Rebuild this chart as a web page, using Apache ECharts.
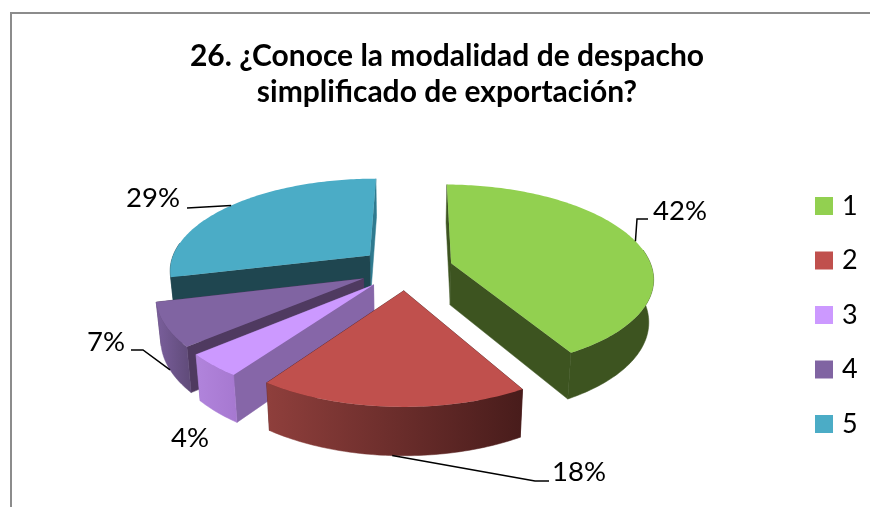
<!DOCTYPE html>
<html>
<head>
<meta charset="utf-8">
<style>html,body{margin:0;padding:0;background:#fff}#c{width:870px;height:507px}</style>
<script src="https://cdn.jsdelivr.net/npm/echarts@6/dist/echarts.min.js"></script>
</head>
<body>
<div id="c"></div>
<script>
var titleText = '26. ¿Conoce la modalidad de despacho\nsimplificado de exportación?';
var categories = ['1', '2', '3', '4', '5'];
var percentValues = [41.6, 18, 4, 7.4, 29];

var topColors = ['#92d050', '#c0504d', '#cc99ff', '#8064a2', '#4bacc6'];
var startWallColors = ['#3d5420', '#4a1c1c', '#8666a8', '#4f3a60', '#1f4650'];
var endWallColors = ['#3d5420', '#4a1c1c', '#8666a8', '#4f3a60', '#2f7a8f'];
var outerWallStops = [
  ['#3d5420', '#3d5420'],
  ['#8f3f3c', '#481c1b'],
  ['#b184dc', '#a678d0'],
  ['#7a5f9c', '#5f4a78'],
  ['#1f4650', '#1f4650']
];
var paintSequence = [4, 3, 2, 1, 0]; // blue at back, then purple, lavender, red, green
var labelPositions = [[680, 211], [579, 472], [190, 438], [106, 342], [153, 198]];
var leaderRoutes = [
  {base: false, bend: [[637, 219], [648, 219]]},
  {base: true, bend: [[535, 481], [549, 481]]},
  null,
  {base: true, bend: [[143, 350], [131, 350]]},
  {base: false, bend: [[187, 208]]}
];

var view = {cx: 406, cy: 268.5, a: 201, b: 91.7, p: 0.148, explode: 0.234, depth: 43, baseShrink: 1.02, startDeg: 0.5};

var total = percentValues.reduce(function (s, v) { return s + v; }, 0);
function rad(d) { return d * Math.PI / 180; }

function project(u, v, isBase) {
  var w = 1 + view.p * v;
  if (isBase) {
    w *= view.baseShrink;
    return [view.cx + view.a * u / w, view.cy + (-view.b * v + view.depth) / w];
  }
  return [view.cx + view.a * u / w, view.cy - view.b * v / w];
}

function sliceStart(i) {
  var before = 0;
  for (var k = 0; k < i; k++) before += percentValues[k];
  return view.startDeg + before / total * 360;
}

function renderSlice(i, api) {
  var val = api.value(0);
  var s = sliceStart(i), e = s + val / total * 360, mid = (s + e) / 2;
  var ou = view.explode * Math.sin(rad(mid)), ov = view.explode * Math.cos(rad(mid));
  function rim(deg, base) {
    return project(ou + Math.sin(rad(deg)), ov + Math.cos(rad(deg)), base);
  }
  var arcTop = [], wallTop = [], wallBase = [];
  function addArcPoint(d) {
    arcTop.push(rim(d, false));
    if (Math.cos(rad(d)) < 0.15) { wallTop.push(rim(d, false)); wallBase.push(rim(d, true)); }
  }
  for (var d = s; d < e; d += 1) addArcPoint(d);
  addArcPoint(e);
  var apexTop = project(ou, ov, false), apexBase = project(ou, ov, true);
  var children = [];
  function poly(points, fill) {
    children.push({type: 'polygon', shape: {points: points}, style: {fill: fill, stroke: fill, lineWidth: 0.5}});
  }
  poly([apexTop, rim(e, false), rim(e, true), apexBase], endWallColors[i]);
  poly([apexTop, rim(s, false), rim(s, true), apexBase], startWallColors[i]);
  poly(wallTop.concat(wallBase.slice().reverse()), new echarts.graphic.LinearGradient(0, 0, 1, 0, [
    {offset: 0, color: outerWallStops[i][0]}, {offset: 1, color: outerWallStops[i][1]}
  ]));
  children.push({type: 'polygon', shape: {points: [apexTop].concat(arcTop)}, style: {fill: topColors[i]}});

  var route = leaderRoutes[i];
  if (route) {
    children.push({
      type: 'polyline',
      shape: {points: [rim(mid, route.base)].concat(route.bend)},
      style: {fill: null, stroke: '#000', lineWidth: 1.5}
    });
  }
  children.push({
    type: 'text',
    style: {
      text: Math.round(val / total * 100) + '%',
      x: labelPositions[i][0], y: labelPositions[i][1],
      align: 'center', verticalAlign: 'middle',
      fill: '#000', fontFamily: 'Lato', fontSize: 27.5
    }
  });
  return {type: 'group', children: children};
}

var chart = echarts.init(document.getElementById('c'), null, {renderer: 'canvas'});
chart.setOption({
  animation: false,
  backgroundColor: '#fff',
  title: {
    text: titleText,
    left: 447, top: 38, textAlign: 'center', padding: 0,
    textStyle: {fontFamily: 'Lato', fontWeight: 'bold', fontSize: 30, lineHeight: 36, color: '#000'}
  },
  legend: {
    orient: 'vertical', left: 815, top: 192.5, padding: 0,
    icon: 'rect', itemWidth: 18, itemHeight: 18, itemGap: 27.5,
    selectedMode: false,
    data: categories,
    textStyle: {fontFamily: 'Lato', fontSize: 27, color: '#000', padding: [0, 0, 0, 4]}
  },
  graphic: [{
    type: 'polyline', silent: true,
    shape: {points: [[11, 507], [11, 13], [870, 13]]},
    style: {fill: null, stroke: '#8c8c8c', lineWidth: 2}
  }],
  series: paintSequence.map(function (i) {
    return {
      type: 'custom', name: categories[i], coordinateSystem: 'none', silent: true,
      itemStyle: {color: topColors[i]},
      data: [[percentValues[i]]],
      renderItem: function (params, api) { return renderSlice(i, api); }
    };
  })
});
</script>
</body>
</html>
